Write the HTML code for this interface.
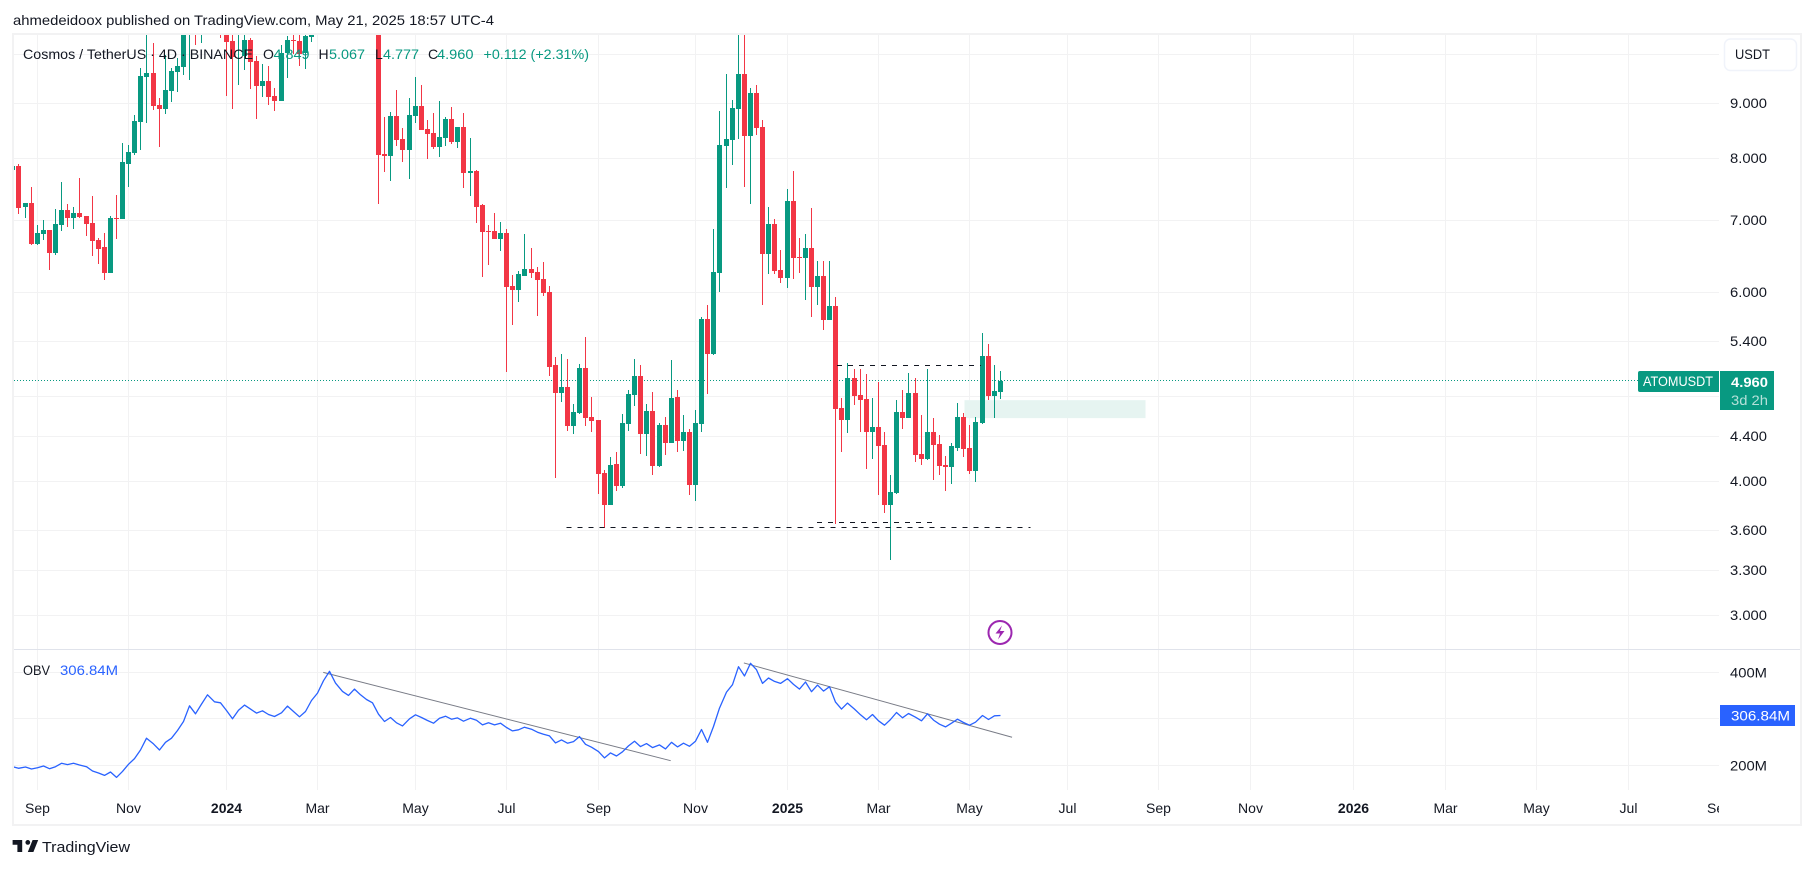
<!DOCTYPE html>
<html lang="en">
<head>
<meta charset="utf-8">
<title>Cosmos / TetherUS chart</title>
<style>
html,body{margin:0;padding:0;background:#fff;width:1814px;height:869px;overflow:hidden}
svg{display:block;position:absolute;left:0;top:0}
text{font-family:"Liberation Sans",sans-serif;font-size:14px;fill:#131722}
</style>
</head>
<body>
<svg id="chart" width="1814" height="869" viewBox="0 0 1814 869">
<defs>
<clipPath id="priceClip"><rect x="14" y="35" width="1705" height="614"/></clipPath>
<clipPath id="obvClip"><rect x="14" y="650" width="1705" height="140"/></clipPath>
<clipPath id="timeClip"><rect x="14" y="790" width="1705" height="34"/></clipPath>
</defs>
<rect width="1814" height="869" fill="#fff"/>
<g id="grid" shape-rendering="crispEdges"></g>
<g clip-path="url(#priceClip)">
  <g id="zones"></g>
  <g id="priceLine"></g>
  <g id="candles" shape-rendering="crispEdges"></g>
  <g id="levels" shape-rendering="crispEdges"></g>
</g>
<g clip-path="url(#obvClip)">
  <g id="obvTrends"></g>
  <path id="obvLine" fill="none" stroke="#2962ff" stroke-width="1.3" stroke-linejoin="round"/>
</g>
<g fill="#f2f2f3" shape-rendering="crispEdges">
  <rect x="12" y="33" width="1790" height="2"/>
  <rect x="12" y="33" width="2" height="793"/>
  <rect x="1800" y="33" width="2" height="793"/>
  <rect x="12" y="824" width="1790" height="2"/>
  <rect x="14" y="649" width="1786" height="1" fill="#e0e3eb"/>
</g>
<text x="13" y="25" textLength="481" lengthAdjust="spacingAndGlyphs">ahmedeidoox published on TradingView.com, May 21, 2025 18:57 UTC-4</text>
<g>
  <text x="23" y="59" textLength="230" lengthAdjust="spacingAndGlyphs">Cosmos / TetherUS · 4D · BINANCE</text>
  <text x="263" y="59">O</text>
  <text x="273.5" y="59" textLength="36" lengthAdjust="spacingAndGlyphs" style="fill:#089981">4.849</text>
  <text x="318.5" y="59">H</text>
  <text x="329" y="59" textLength="36" lengthAdjust="spacingAndGlyphs" style="fill:#089981">5.067</text>
  <text x="375" y="59">L</text>
  <text x="383" y="59" textLength="36" lengthAdjust="spacingAndGlyphs" style="fill:#089981">4.777</text>
  <text x="428" y="59">C</text>
  <text x="437" y="59" textLength="36.5" lengthAdjust="spacingAndGlyphs" style="fill:#089981">4.960</text>
  <text x="483.5" y="59" textLength="105.5" lengthAdjust="spacingAndGlyphs" style="fill:#089981">+0.112 (+2.31%)</text>
</g>
<text x="23" y="675" textLength="27" lengthAdjust="spacingAndGlyphs">OBV</text>
<text x="60" y="675" textLength="58" lengthAdjust="spacingAndGlyphs" style="fill:#2962ff">306.84M</text>
<g id="priceAxis"></g>
<g id="obvAxis"></g>
<g clip-path="url(#timeClip)"><g id="timeAxis"></g></g>
<g>
  <rect x="1724.5" y="39" width="72" height="31.5" rx="6" fill="#fff" stroke="#f0f3fa" stroke-width="1.5"/>
  <text x="1735" y="59" textLength="35" lengthAdjust="spacingAndGlyphs">USDT</text>
</g>
<g>
  <path d="M1640 371H1719V392H1640a2 2 0 0 1-2-2V373a2 2 0 0 1 2-2Z" fill="#089981"/>
  <text x="1643" y="386" textLength="70" lengthAdjust="spacingAndGlyphs" style="fill:#fff">ATOMUSDT</text>
  <rect x="1720" y="371" width="54" height="39" fill="#089981"/>
  <text x="1731" y="387" textLength="37" lengthAdjust="spacingAndGlyphs" style="fill:#fff;font-weight:bold">4.960</text>
  <text x="1731" y="405" textLength="37" lengthAdjust="spacingAndGlyphs" style="fill:#b5e0d9">3d 2h</text>
</g>
<g>
  <rect x="1720" y="705" width="75" height="21" fill="#2962ff"/>
  <text x="1731" y="720.5" textLength="59" lengthAdjust="spacingAndGlyphs" style="fill:#fff">306.84M</text>
</g>
<g>
  <circle cx="1000" cy="632.5" r="11.5" fill="#fff" stroke="#9c27b0" stroke-width="2"/>
  <path d="M1002 625.5L995.5 633.5H1000L998 639.5L1004.5 631H1000Z" fill="#9c27b0"/>
</g>
<g>
  <path transform="translate(11 835.2) scale(.8)" d="M14 6H2v6h6v9h6V6zm14 15h-7l6-15h7l-6 15zm-7-9a3 3 0 1 0 0-6 3 3 0 0 0 0 6z" fill="#131722"/>
  <text x="42" y="852" textLength="88" lengthAdjust="spacingAndGlyphs" style="font-size:15px">TradingView</text>
</g>
</svg>
<script>
const opens=[7.80,7.87,7.21,7.27,6.66,6.80,6.86,6.53,6.93,7.16,7.04,7.11,7.07,6.96,6.71,6.61,6.25,7.04,7.02,7.91,8.09,8.65,9.52,9.60,8.97,8.89,9.24,9.62,9.73,11.0,11.6,11.0,11.5,11.3,11.7,11.0,10.28,10.5,9.96,10.31,9.85,9.34,9.44,9.14,9.05,10.03,10.32,10.28,10.03,10.38,
10.6,11.2,11.8,12.2,11.9,12.1,11.7,12.0,11.6,11.8,11.4,8.07,8.04,8.76,8.34,8.14,8.76,8.95,8.51,8.44,8.19,8.36,8.71,8.28,8.55,7.75,7.78,7.24,6.84,6.84,6.73,6.81,6.08,6.03,6.21,6.31,6.27,6.17,6.00,5.13,4.83,4.90,4.50,4.63,5.10,4.59,4.56,4.07,3.80,4.15,
3.96,4.52,4.81,5.01,4.43,4.65,4.13,4.51,4.34,4.79,4.36,4.45,3.97,4.52,5.66,5.26,6.25,8.21,8.32,8.89,9.58,8.39,9.20,8.55,6.51,6.95,6.30,6.19,7.30,6.47,6.46,6.60,6.07,6.21,5.65,5.83,4.68,4.56,4.99,4.81,4.77,4.45,4.49,4.32,3.80,3.90,4.64,4.58,4.83,4.24,
4.20,4.45,4.33,4.14,4.12,4.30,4.59,4.30,4.09,4.53,5.23,4.80,4.849];
const highs=[7.88,7.90,7.27,7.52,6.93,7.00,6.86,7.17,7.60,7.25,7.21,7.67,7.07,7.38,6.74,6.81,7.07,7.39,8.27,8.23,8.78,9.71,11.0,10.24,9.10,9.98,9.71,9.92,11.2,11.9,11.8,11.7,11.9,12.0,12.0,11.2,11.0,11.3,10.9,10.35,9.96,9.79,9.75,9.30,10.21,10.40,11.0,11.0,10.6,10.8,
11.4,12.0,12.5,12.9,12.6,12.7,12.3,12.4,12.1,12.0,11.6,8.74,8.83,9.26,8.53,9.10,9.52,9.36,8.69,8.81,9.05,8.74,8.93,8.55,8.81,8.36,7.80,7.25,6.93,7.11,6.98,6.87,6.23,6.28,6.80,6.60,6.33,6.40,6.08,5.22,5.26,5.20,4.72,5.14,5.45,4.79,4.56,4.10,4.21,4.26,
4.62,4.86,5.20,5.13,4.72,4.84,4.53,4.59,5.19,4.86,4.61,4.47,4.66,5.69,5.84,6.87,8.85,9.58,9.07,10.6,10.7,9.30,9.36,8.69,7.21,7.02,6.57,7.49,7.78,6.74,6.80,7.19,6.42,6.42,6.42,5.94,4.78,5.15,5.09,5.09,5.03,4.78,4.95,4.45,4.05,4.76,4.86,5.05,4.99,4.61,
5.09,4.58,4.42,4.22,4.34,4.73,4.63,4.51,4.59,5.50,5.37,5.13,5.067];
const lows=[7.77,7.10,7.04,6.64,6.64,6.71,6.30,6.50,6.84,6.90,6.87,7.04,6.77,6.49,6.38,6.16,6.25,6.73,7.02,7.52,8.06,8.14,8.63,8.87,8.19,8.80,9.03,9.22,9.56,9.46,10.21,10.24,10.9,10.9,10.35,9.14,8.89,9.36,9.67,9.28,8.71,9.12,8.97,8.85,9.05,9.50,10.0,9.75,9.69,10.26,
10.5,10.9,11.3,11.6,11.4,11.5,11.2,11.3,11.0,11.0,7.25,7.77,7.62,8.21,7.93,7.65,8.63,8.50,7.99,8.16,8.02,8.21,8.25,8.18,7.50,7.38,6.96,6.20,6.36,6.73,6.56,5.06,5.59,5.88,6.21,6.19,5.70,5.95,5.01,4.03,4.74,4.46,4.43,4.62,4.50,4.45,3.89,3.62,3.80,3.92,
3.94,4.46,4.70,4.24,4.22,4.05,4.12,4.23,4.34,4.26,4.27,3.88,3.83,4.45,4.82,5.25,6.00,7.50,7.88,8.34,7.52,7.25,8.41,5.84,6.24,6.24,6.12,6.06,6.17,6.25,5.90,5.69,5.84,5.53,5.65,3.65,4.26,4.44,4.71,4.45,4.11,4.20,3.88,3.74,3.38,3.89,4.47,4.58,4.17,4.14,
4.19,4.01,4.05,3.92,3.98,4.27,4.21,4.06,3.99,4.52,4.76,4.58,4.777];
const closes=[7.87,7.19,7.27,6.66,6.81,6.86,6.53,6.95,7.16,7.04,7.11,7.05,6.95,6.70,6.59,6.25,7.04,7.02,7.93,8.11,8.67,9.54,9.60,8.95,8.89,9.26,9.65,9.75,11.0,11.6,11.0,11.5,11.3,11.7,11.2,10.26,9.94,11.0,10.31,9.83,9.34,9.44,9.12,9.05,10.03,10.31,10.30,10.0,10.40,10.5,
11.2,11.8,12.2,11.9,12.1,11.7,12.0,11.6,11.8,11.4,8.055,8.04,8.76,8.32,8.14,8.78,8.95,8.50,8.43,8.19,8.37,8.71,8.28,8.55,7.75,7.78,7.21,6.83,6.83,6.73,6.81,6.07,6.03,6.24,6.31,6.25,6.16,5.99,5.11,4.83,4.90,4.50,4.64,5.10,4.58,4.55,4.06,3.80,4.14,3.96,
4.53,4.82,5.01,4.43,4.65,4.13,4.51,4.34,4.78,4.36,4.45,3.97,4.53,5.66,5.26,6.27,8.23,8.34,8.91,9.58,8.39,9.20,8.53,6.51,6.95,6.28,6.19,7.30,6.46,6.46,6.60,6.07,6.21,5.65,5.83,4.67,4.56,4.99,4.80,4.76,4.45,4.49,4.31,3.80,3.91,4.64,4.58,4.83,4.23,4.20,
4.45,4.32,4.13,4.12,4.31,4.59,4.29,4.09,4.54,5.23,4.80,4.85,4.960];
const obvValues=[197.1,193.5,196.4,192.0,194.9,198.5,192.8,197.1,204.2,201.4,204.2,200.7,197.1,187.8,183.4,178.4,185.6,174.1,187.0,202.1,214.3,232.9,258.0,245.8,232.9,249.4,258.0,274.5,293.8,327.5,310.3,331.1,351.2,336.1,334.0,317.5,299.6,318.2,329.0,320.4,311.8,316.8,308.9,304.6,312.5,326.8,315.3,303.9,315.3,339.0,
354.8,381.3,401.4,376.3,358.4,349.8,363.4,351.2,341.1,334.0,309.6,293.8,302.4,291.0,284.5,299.6,308.2,302.4,296.0,290.3,301.0,305.3,298.9,301.7,294.6,301.0,296.7,286.7,291.0,286.7,290.3,281.0,273.8,276.0,281.7,277.4,270.9,266.6,263.0,248.0,254.5,247.3,250.9,261.6,245.1,238.7,229.4,215.8,226.5,220.0,
229.0,241.6,251.6,240.1,246.6,238.0,243.7,235.1,249.4,239.4,247.3,240.8,251.6,276.7,249.4,283.1,322.6,357.0,372.7,411.4,391.4,418.6,405.0,375.6,387.1,379.9,375.6,385.6,373.4,363.4,378.5,357.7,372.0,359.1,368.4,335.5,320.4,333.3,320.4,308.2,297.5,308.9,295.3,286.0,298.2,313.2,301.8,311.1,303.2,295.3,
310.4,296.8,288.2,282.4,290.3,298.9,291.7,286.0,292.4,306.8,298.2,306.1,306.84];
const priceTicks=[10,9,8,7,6,5.4,4.8,4.4,4,3.6,3.3,3];
const priceTickLabels=["","9.000","8.000","7.000","6.000","5.400","","4.400","4.000","3.600","3.300","3.000"];
const obvTicks=[400,300,200];
const obvTickLabels=["400M","","200M"];
const timeTickBars=[4,19,35,50,66,81,96,112,127,142,157,173,188,203,220,235,250,265,280];
const timeTickLabels=["Sep","Nov","2024","Mar","May","Jul","Sep","Nov","2025","Mar","May","Jul","Sep","Nov","2026","Mar","May","Jul","Sep"];
const lastPrice=4.96;
const levelPrices=[5.13,3.66,3.625];
const levelStartBars=[135.3,132,90.9];
const levelEndBars=[158.9,151,167];
const zoneHighPrice=4.76;
const zoneLowPrice=4.58;
const zoneStartBar=156.2;
const zoneEndBar=185.9;
const obvTrendStartBars=[51,120];
const obvTrendEndBars=[108,164];
const obvTrendStartValues=[399.1,419.4];
const obvTrendEndValues=[209.9,260.2];

const NS='http://www.w3.org/2000/svg';
function xBar(i){return 12.38+6.0956*i;}
function yPrice(p){return 615.3-466*Math.log(p/3);}
function yObv(v){return 765.3-(v-200)*0.4665;}
const gridEl=document.getElementById('grid');
const candlesEl=document.getElementById('candles');
const levelsEl=document.getElementById('levels');
const priceAxisEl=document.getElementById('priceAxis');
const obvAxisEl=document.getElementById('obvAxis');
const timeAxisEl=document.getElementById('timeAxis');

priceTicks.forEach(function(t,k){
  const y=Math.floor(yPrice(t));
  const line=document.createElementNS(NS,'rect');
  
  
  line.setAttribute('x',14);line.setAttribute('y',y);line.setAttribute('width',1705);line.setAttribute('height',1);line.setAttribute('fill','#f2f2f3');
  gridEl.appendChild(line);
  if(priceTickLabels[k]){
    const label=document.createElementNS(NS,'text');
    
    
    label.setAttribute('x',1730);label.setAttribute('y',y+5);
    label.setAttribute('textLength',37);label.setAttribute('lengthAdjust','spacingAndGlyphs');
    label.textContent=priceTickLabels[k];
    priceAxisEl.appendChild(label);
  }
});
obvTicks.forEach(function(t,k){
  const y=Math.floor(yObv(t));
  const line=document.createElementNS(NS,'rect');
  
  
  line.setAttribute('x',14);line.setAttribute('y',y);line.setAttribute('width',1705);line.setAttribute('height',1);line.setAttribute('fill','#f2f2f3');
  gridEl.appendChild(line);
  if(obvTickLabels[k]){
    const label=document.createElementNS(NS,'text');
    
    
    label.setAttribute('x',1730);label.setAttribute('y',y+5.5);
    label.setAttribute('textLength',37);label.setAttribute('lengthAdjust','spacingAndGlyphs');
    label.textContent=obvTickLabels[k];
    obvAxisEl.appendChild(label);
  }
});
timeTickBars.forEach(function(b,k){
  const x=Math.round(xBar(b));
  if(x<1719){
    const line=document.createElementNS(NS,'rect');
    
    
    line.setAttribute('x',x);line.setAttribute('y',35);line.setAttribute('width',1);line.setAttribute('height',755);line.setAttribute('fill','#f2f2f3');
    gridEl.appendChild(line);
  }
  const label=document.createElementNS(NS,'text');
  
  
  label.setAttribute('x',x+0.5);label.setAttribute('y',813);label.setAttribute('text-anchor','middle');
  if(/^\d+$/.test(timeTickLabels[k])){label.setAttribute('font-weight','bold');}
  label.textContent=timeTickLabels[k];
  timeAxisEl.appendChild(label);
});

const zone=document.createElementNS(NS,'rect');


zone.setAttribute('x',xBar(zoneStartBar));zone.setAttribute('y',yPrice(zoneHighPrice));
zone.setAttribute('width',xBar(zoneEndBar)-xBar(zoneStartBar));
zone.setAttribute('height',yPrice(zoneLowPrice)-yPrice(zoneHighPrice));
zone.setAttribute('fill','#e6f4f1');
document.getElementById('zones').appendChild(zone);

const priceLine=document.createElementNS(NS,'line');


priceLine.setAttribute('x1',14);priceLine.setAttribute('x2',1640);
priceLine.setAttribute('y1',Math.floor(yPrice(lastPrice))+0.5);priceLine.setAttribute('y2',Math.floor(yPrice(lastPrice))+0.5);
priceLine.setAttribute('stroke','#089981');priceLine.setAttribute('stroke-dasharray','1 2');
document.getElementById('priceLine').appendChild(priceLine);

opens.forEach(function(o,i){
  const c=closes[i];
  const up=c>=o;
  const color=up?'#089981':'#f23645';
  const x=Math.round(xBar(i));
  const yH=Math.round(yPrice(highs[i]));
  const yL=Math.round(yPrice(lows[i]));
  const yT=Math.round(yPrice(Math.max(o,c)));
  const yB=Math.round(yPrice(Math.min(o,c)));
  const wick=document.createElementNS(NS,'rect');
  
  
  wick.setAttribute('x',x);wick.setAttribute('y',yH);wick.setAttribute('width',1);wick.setAttribute('height',Math.max(1,yL-yH));wick.setAttribute('fill',color);
  candlesEl.appendChild(wick);
  const body=document.createElementNS(NS,'rect');
  
  
  body.setAttribute('x',x-2);body.setAttribute('y',yT);body.setAttribute('width',5);body.setAttribute('height',Math.max(1,yB-yT));body.setAttribute('fill',color);
  candlesEl.appendChild(body);
});

levelPrices.forEach(function(p,k){
  const y=Math.floor(yPrice(p))+0.5;
  const line=document.createElementNS(NS,'line');
  
  
  line.setAttribute('x1',xBar(levelStartBars[k]));line.setAttribute('x2',xBar(levelEndBars[k]));
  line.setAttribute('y1',y);line.setAttribute('y2',y);
  line.setAttribute('stroke','#131722');line.setAttribute('stroke-width',1);line.setAttribute('stroke-dasharray','5 6');
  levelsEl.appendChild(line);
});

let obvPath='';
obvValues.forEach(function(v,i){
  obvPath+=(i?'L':'M')+(Math.round(xBar(i))+0.5)+' '+yObv(v).toFixed(1);
});
document.getElementById('obvLine').setAttribute('d',obvPath);

obvTrendStartBars.forEach(function(b,k){
  const line=document.createElementNS(NS,'line');
  
  
  line.setAttribute('x1',xBar(b));line.setAttribute('x2',xBar(obvTrendEndBars[k]));
  line.setAttribute('y1',yObv(obvTrendStartValues[k]));line.setAttribute('y2',yObv(obvTrendEndValues[k]));
  line.setAttribute('stroke','#787b86');line.setAttribute('stroke-width',1);
  document.getElementById('obvTrends').appendChild(line);
});
</script>
</body>
</html>
